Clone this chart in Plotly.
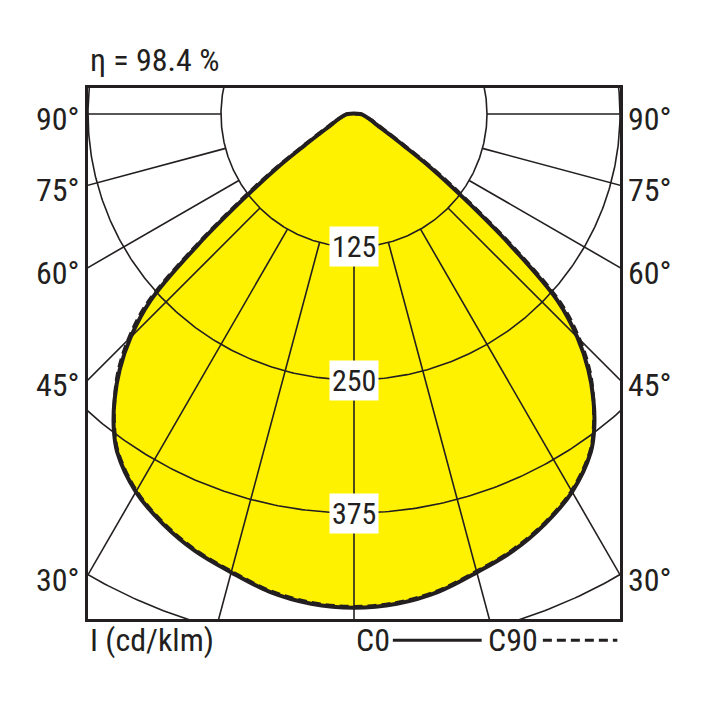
import numpy as np
import plotly.graph_objects as go

# light distribution (I in cd/klm vs gamma in degrees)
gamma = [0, 5, 10, 15, 20, 25, 30, 35, 37.5, 40, 42.5, 45, 47.5, 50,
         52.5, 55, 57.5, 60, 65, 70, 75, 80, 85, 90]
i_c0 = [464, 462, 456, 446, 437, 425, 410, 388, 371, 350, 326, 297, 259, 192,
        130, 88, 55, 38, 23, 17, 13, 10, 8, 6]
i_c90 = [463, 461, 455, 445, 436, 424, 409, 387, 370, 350, 328, 300, 264, 198,
         137, 94, 60, 42, 25, 18, 13, 10, 8, 6]

# grid
circle_radii = [125, 250, 375, 500]
radius_labels = [125, 250, 375]
radial_angles = [-90, -75, -60, -45, -30, -15, 0, 15, 30, 45, 60, 75, 90]
angle_labels = [90, 75, 60, 45, 30]

eta_text = "η = 98.4 %"
unit_text = "I (cd/klm)"

INK = "#231F20"
YELLOW = "#FFF200"
FONT = "Liberation Sans Narrow, Roboto Condensed, DejaVu Sans Condensed, Liberation Sans, sans-serif"

X_RANGE = [-250, 250]
Y_RANGE = [-474.6, 24.4]


def curve_xy(angles, values):
    g = np.radians(np.array(angles, dtype=float))
    r = np.array(values, dtype=float)
    # left half from 90 deg down to 0, then right half back up to 90, closed
    x = np.concatenate([-(r * np.sin(g))[::-1], (r * np.sin(g))[1:]])
    y = np.concatenate([-(r * np.cos(g))[::-1], -(r * np.cos(g))[1:]])
    return np.append(x, x[0]), np.append(y, y[0])


fig = go.Figure()

x0, y0 = curve_xy(gamma, i_c0)
x90, y90 = curve_xy(gamma, i_c90)

# yellow fill first so the grid sits on top of it
fig.add_trace(go.Scatter(x=x0, y=y0, mode="lines", fill="toself",
                         fillcolor=YELLOW, line=dict(width=0, shape="spline"),
                         hoverinfo="skip"))

# circles
t = np.linspace(0, 2 * np.pi, 721)
for r in circle_radii:
    fig.add_trace(go.Scatter(x=r * np.cos(t), y=r * np.sin(t), mode="lines",
                             line=dict(color=INK, width=1.6), hoverinfo="skip"))

# radial lines, starting at the first circle
for a in radial_angles:
    ar = np.radians(a)
    rr = np.array([circle_radii[0], 900])
    fig.add_trace(go.Scatter(x=rr * np.sin(ar), y=-rr * np.cos(ar), mode="lines",
                             line=dict(color=INK, width=1.6), hoverinfo="skip"))

# C90 dashed, then C0 solid outline on top
fig.add_trace(go.Scatter(x=x90, y=y90, mode="lines",
                         line=dict(color=INK, width=3.5, dash="9px,5px", shape="spline"),
                         hoverinfo="skip"))
fig.add_trace(go.Scatter(x=x0, y=y0, mode="lines",
                         line=dict(color=INK, width=4, shape="spline"),
                         hoverinfo="skip"))

annotations = []
for r in radius_labels:
    annotations.append(dict(x=0, y=-r, xref="x", yref="y", text=str(r),
                            showarrow=False, bgcolor="white", borderpad=2,
                            font=dict(family=FONT, size=30, color=INK)))

for a in angle_labels:
    yy = 0 if a == 90 else X_RANGE[0] / np.tan(np.radians(a))
    for side in (-1, 1):
        annotations.append(dict(
            x=X_RANGE[0] if side < 0 else X_RANGE[1], y=yy, xref="x", yref="y",
            text=f"{a}°", showarrow=False,
            xanchor="right" if side < 0 else "left", yanchor="middle",
            xshift=-6 * (side < 0) + 6 * (side > 0), yshift=-5,
            font=dict(family=FONT, size=32, color=INK)))

# texts above and below the frame
annotations.append(dict(x=0, y=1.053, xref="paper", yref="paper", text=eta_text,
                        showarrow=False, xanchor="left", yanchor="middle",
                        font=dict(family=FONT, size=32, color=INK)))
for label, xp in ((unit_text, 0.0), ("C0", 0.5), ("C90", 0.748)):
    annotations.append(dict(x=xp, y=-0.04, xref="paper", yref="paper", text=label,
                            showarrow=False, xanchor="left", yanchor="middle",
                            font=dict(family=FONT, size=32, color=INK)))

shapes = [
    dict(type="line", xref="paper", yref="paper", x0=0.573, x1=0.74, y0=-0.04, y1=-0.04,
         line=dict(color=INK, width=3)),
    dict(type="line", xref="paper", yref="paper", x0=0.855, x1=0.995, y0=-0.04, y1=-0.04,
         line=dict(color=INK, width=3, dash="9px,5px")),
]

# page body keeps its default 8px margin, so the figure is 700 px and offset by it
fig.update_layout(
    width=700, height=700,
    margin=dict(l=80, r=88, t=80, b=89),
    paper_bgcolor="white", plot_bgcolor="white",
    showlegend=False,
    annotations=annotations, shapes=shapes,
)
fig.update_xaxes(range=X_RANGE, showgrid=False, zeroline=False, showticklabels=False,
                 ticks="", showline=True, mirror=True, linecolor=INK, linewidth=2.5)
fig.update_yaxes(range=Y_RANGE, showgrid=False, zeroline=False, showticklabels=False,
                 ticks="", showline=True, mirror=True, linecolor=INK, linewidth=2.5)

fig.write_html("out.html")
